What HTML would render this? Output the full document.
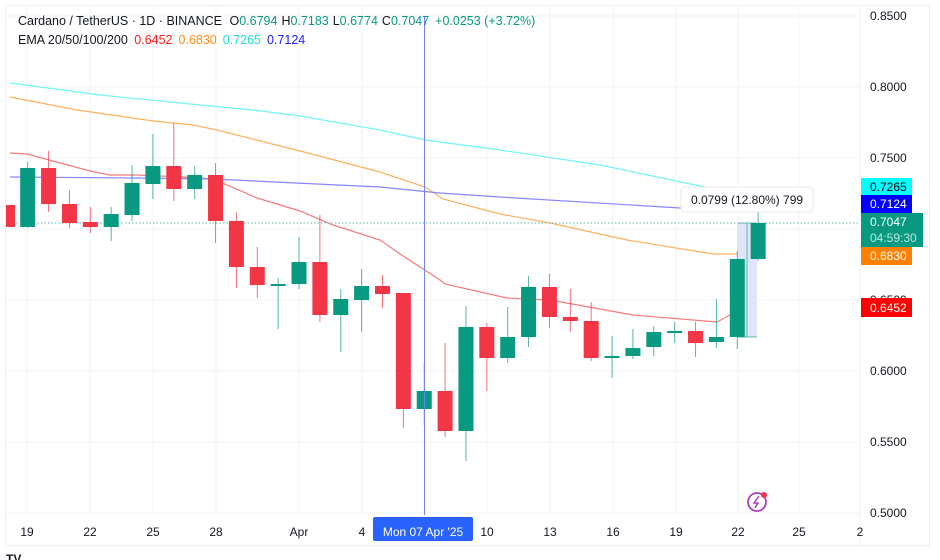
<!DOCTYPE html>
<html><head><meta charset="utf-8"><style>
html,body{margin:0;padding:0;background:#fff;}
svg{display:block;font-family:"Liberation Sans",sans-serif;}
</style></head><body>
<svg width="940" height="560" viewBox="0 0 940 560" xmlns="http://www.w3.org/2000/svg">
<rect x="0" y="0" width="940" height="560" fill="#fff"/>
<rect x="5.5" y="5.5" width="924" height="540" fill="none" stroke="#eef0f4"/>
<g stroke="#f2f3f6" stroke-width="1">
<line x1="6" y1="16" x2="860" y2="16"/><line x1="6" y1="87" x2="860" y2="87"/>
<line x1="6" y1="158" x2="860" y2="158"/><line x1="6" y1="229" x2="860" y2="229"/>
<line x1="6" y1="300" x2="860" y2="300"/><line x1="6" y1="371" x2="860" y2="371"/>
<line x1="6" y1="442" x2="860" y2="442"/><line x1="6" y1="513" x2="860" y2="513"/>
<line x1="27" y1="6" x2="27" y2="513"/><line x1="90" y1="6" x2="90" y2="513"/>
<line x1="153" y1="6" x2="153" y2="513"/><line x1="216" y1="6" x2="216" y2="513"/>
<line x1="299" y1="6" x2="299" y2="513"/><line x1="362" y1="6" x2="362" y2="513"/>
<line x1="487" y1="6" x2="487" y2="513"/><line x1="550" y1="6" x2="550" y2="513"/>
<line x1="613" y1="6" x2="613" y2="513"/><line x1="676" y1="6" x2="676" y2="513"/>
<line x1="738" y1="6" x2="738" y2="513"/><line x1="799" y1="6" x2="799" y2="513"/>
<line x1="860" y1="6" x2="860" y2="545"/>
</g>
<g fill="none" stroke-width="1.2">
<polyline stroke="#6ff5f5" points="10,83 100,95 200,105 253,110 300,116 380,130 425,140 500,150 600,165 700,186 760,196"/>
<polyline stroke="#ffb05e" points="10,97 77,110 153,121 193,125 217,130 300,151 380,172 425,187 443,199 500,214 550,223 627,240 713,254 747,254"/>
<polyline stroke="#f77a7a" points="10,153 27,154 90,171 110,175 137,175 183,177 213,179 257,198 300,211 333,225 380,240 400,254 440,280 445,284 507,298 550,300 633,315 717,322 730,315 757,307"/>
<polyline stroke="#8a85ff" points="10,177 133,178 213,179 380,187 440,193 500,197 680,208 757,211"/>
</g>
<line x1="6" y1="223" x2="860" y2="223" stroke="#5fb8a8" stroke-dasharray="1.5,2"/>
<rect x="737" y="223" width="20" height="114" fill="#dfe5fb"/>
<line x1="737" y1="337" x2="757" y2="337" stroke="#5fb8a8"/>
<line x1="747" y1="337" x2="747" y2="223" stroke="#5fb8a8"/>
<line x1="738" y1="223" x2="756" y2="223" stroke="#5fb8a8"/>
<g id="c"></g>
<line x1="424.5" y1="16" x2="424.5" y2="515" stroke="#6f86e8" stroke-width="1"/>
<rect x="681" y="187" width="132" height="25" rx="4" fill="#fff" stroke="#e8eaef"/>
<text x="747" y="204" font-size="12" fill="#131722" text-anchor="middle">0.0799 (12.80%) 799</text>
<text x="18" y="25" font-size="12.5" fill="#131722">Cardano / TetherUS · 1D · BINANCE <tspan dx="4">O</tspan><tspan fill="#089981">0.6794</tspan><tspan dx="4">H</tspan><tspan fill="#089981">0.7183</tspan><tspan dx="4">L</tspan><tspan fill="#089981">0.6774</tspan><tspan dx="4">C</tspan><tspan fill="#089981">0.7047</tspan><tspan dx="6" fill="#089981">+0.0253 (+3.72%)</tspan></text>
<text x="18" y="44" font-size="12.5" fill="#131722">EMA 20/50/100/200 <tspan dx="3" fill="#ff1a1a">0.6452</tspan><tspan dx="6" fill="#ff8c1a">0.6830</tspan><tspan dx="6" fill="#1ae0e0">0.7265</tspan><tspan dx="6" fill="#2020ff">0.7124</tspan></text>
<g font-size="12" fill="#131722">
<text x="870" y="20">0.8500</text><text x="870" y="91">0.8000</text><text x="870" y="162">0.7500</text>
<text x="870" y="304">0.6500</text><text x="870" y="375">0.6000</text><text x="870" y="446">0.5500</text>
<text x="870" y="517">0.5000</text>
</g>
<rect x="861" y="178" width="51" height="17" fill="#00ffff"/><text x="870" y="191" font-size="12" fill="#000">0.7265</text>
<rect x="861" y="195" width="51" height="18" fill="#0000ff"/><text x="870" y="208" font-size="12" fill="#fff">0.7124</text>
<rect x="861" y="213" width="62" height="34" fill="#089981"/><text x="870" y="226" font-size="12" fill="#fff">0.7047</text><text x="870" y="242" font-size="12" fill="#bfe6de">04:59:30</text>
<rect x="861" y="247" width="51" height="18" fill="#ff8000"/><text x="870" y="260" font-size="12" fill="#fff">0.6830</text>
<rect x="861" y="298" width="51" height="19" fill="#ff0000"/><text x="870" y="312" font-size="12" fill="#fff">0.6452</text>
<g font-size="12" fill="#131722" text-anchor="middle">
<text x="27" y="536">19</text><text x="90" y="536">22</text><text x="153" y="536">25</text><text x="216" y="536">28</text>
<text x="299" y="536">Apr</text><text x="362" y="536">4</text><text x="487" y="536">10</text><text x="550" y="536">13</text>
<text x="613" y="536">16</text><text x="676" y="536">19</text><text x="738" y="536">22</text><text x="799" y="536">25</text><text x="860" y="536">2</text>
</g>
<rect x="373" y="517" width="100" height="24" rx="2" fill="#2962ff"/>
<text x="423" y="536" font-size="12" fill="#fff" text-anchor="middle">Mon 07 Apr '25</text>
<circle cx="757" cy="502" r="9" fill="none" stroke="#a93fc4" stroke-width="1.8"/>
<path d="M759 496 L754 503 L758 503 L755 508" fill="none" stroke="#a93fc4" stroke-width="1.5"/>
<circle cx="764" cy="495" r="3" fill="#f23645"/>
<text x="6" y="563" font-size="12" fill="#131722" font-weight="bold">TV</text>
</svg>
<script>
var d=[
[0,'g',168,227,162,228],[1,'r',168,204,151,212],[2,'r',204,223,190,228],[3,'r',222,227,207,233],
[4,'g',214,227,207,241],[5,'g',183,215,165,221],[6,'g',166,184,134,199],[7,'r',166,189,123,201],
[8,'g',175,189,166,199],[9,'r',175,221,163,243],[10,'r',221,267,212,288],[11,'r',267,285,247,298],
[12,'g',284,285,278,329],[13,'g',262,284,237,289],[14,'r',262,315,215,322],[15,'g',299,315,289,352],
[16,'g',286,300,269,332],[17,'r',286,294,275,308],[18,'r',293,409,293,428],[19,'g',391,409,363,425],
[20,'r',391,431,343,437],[21,'g',327,431,306,461],[22,'r',327,358,323,391],[23,'g',337,358,307,363],
[24,'g',287,337,276,347],[25,'r',287,317,274,328],[26,'r',317,321,289,332],[27,'r',321,358,302,361],
[28,'g',356,358,336,378],[29,'g',348,356,329,359],[30,'g',332,347,326,356],[31,'g',331,333,322,343],
[32,'r',331,343,322,357],[33,'g',337,342,299,348],[34,'g',259,337,251,349],[35,'g',223,259,203,261]];
var g=document.getElementById('c'),s='';
s+='<rect x="6" y="205" width="9" height="22" fill="#f23645"/>';
d.forEach(function(c){var x=27.7+20.87*c[0],col=c[1]=='g'?'#089981':'#f23645';
s+='<line x1="'+x+'" y1="'+c[4]+'" x2="'+x+'" y2="'+c[5]+'" stroke="'+col+'" stroke-width="1" opacity="0.7"/>';
s+='<rect x="'+(x-7.5)+'" y="'+c[2]+'" width="15" height="'+Math.max(2,c[3]-c[2])+'" fill="'+col+'"/>';});
g.innerHTML=s;
</script>
</body></html>
